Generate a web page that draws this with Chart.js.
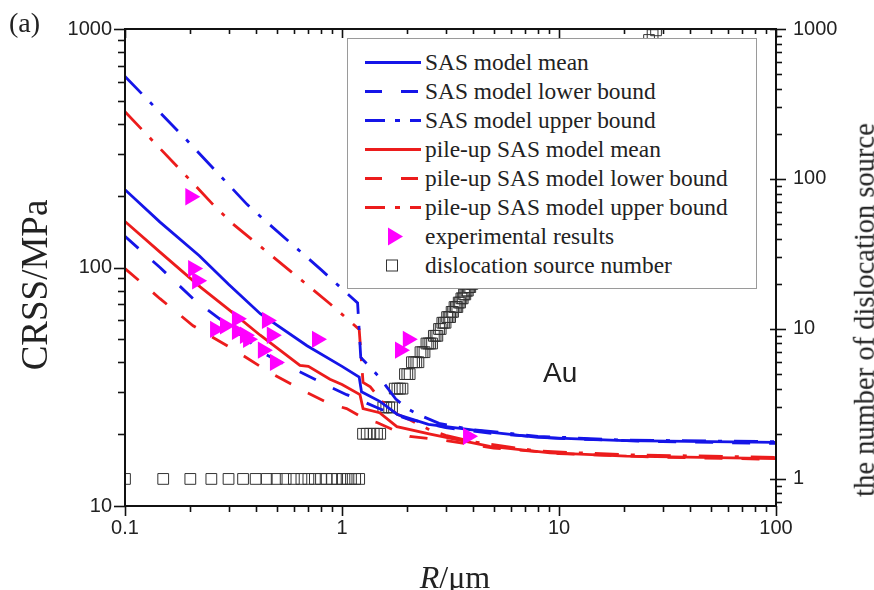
<!DOCTYPE html>
<html>
<head>
<meta charset="utf-8">
<script src="https://cdn.jsdelivr.net/npm/chart.js@4.4.0/dist/chart.umd.min.js"></script>
<style>
  body { margin: 0; background: #fff; }
  #wrap { position: relative; width: 874px; height: 590px; overflow: hidden; }
  #stat-chart { position: absolute; left: 0; top: 0; }
  .txt { position: absolute; color: #222; white-space: nowrap; line-height: 1; }
  .serif { font-family: "Liberation Serif", "Times New Roman", serif; }
  .rot { transform: translate(-50%, -50%) rotate(-90deg); }
  #legend { position: absolute; left: 347px; top: 38px; width: 410px; height: 251px; background: #fff;
            border: 1px solid #9a9a9a; box-sizing: border-box; }
  .row { position: absolute; left: 0; height: 29px; display: flex; align-items: center;
         font-family: "Liberation Serif", "Times New Roman", serif; font-size: 23.4px; color: #222; white-space: nowrap; }
  .row svg { margin-left: 17px; margin-right: 4px; }
</style>
</head>
<body>
<div id="wrap">
  <canvas id="stat-chart" width="874" height="590"></canvas>
  <div id="legend"></div>
  <div class="txt serif" style="left:9px;top:9px;font-size:28px">(a)</div>
  <div class="txt" style="left:543px;top:359px;font-size:28px;font-family:'Liberation Sans',Arial,sans-serif">Au</div>
  <div class="txt serif rot" style="left:34px;top:285px;font-size:37px">CRSS/MPa</div>
  <div class="txt serif rot" style="left:865px;top:310px;font-size:28.5px">the number of dislocation source</div>
  <div class="txt serif" style="left:455px;top:577px;font-size:32px;transform:translate(-50%,-50%)"><i>R</i>/μm</div>
</div>
<script>
// SAS model (blue)
const sasMeanR = [0.1, 0.145, 0.22, 0.3, 0.42, 0.69, 1.0, 1.2, 1.23, 1.5, 1.8, 2.5, 4.8, 8, 20, 50, 100]
const sasMeanY = [212, 155, 112, 85, 64, 47, 38.5, 34.7, 30.1, 27.4, 24.2, 22.0, 20.4, 19.4, 18.8, 18.6, 18.5]
const sasLowR = [0.1, 0.145, 0.206, 0.3, 0.45, 0.62, 0.88, 1.05, 1.2, 1.3, 1.5, 2.0, 3, 5, 10, 30, 100]
const sasLowY = [135, 100, 74, 57, 43, 37, 31.6, 29.3, 28.0, 27.0, 25.5, 23.2, 21.3, 20.1, 19.2, 18.6, 18.3]
const sasUpR = [0.1, 0.2, 0.365, 0.45, 0.8, 1.18, 1.22, 1.49, 1.77, 2.0, 2.24, 2.8, 4, 8, 20, 100]
const sasUpY = [633, 330, 184, 155, 98, 71, 42, 34.6, 28.1, 25.6, 24.2, 22.2, 20.9, 19.6, 18.9, 18.6]

// pile-up SAS model (red)
const pileMeanR = [0.1, 0.145, 0.222, 0.3, 0.42, 0.64, 0.7, 0.88, 1.0, 1.21, 1.25, 1.49, 1.79, 2.55, 4.8, 9.1, 20.5, 100]
const pileMeanY = [156, 116, 83, 66.8, 52, 38.9, 38.5, 34, 32.3, 29.3, 25.6, 24.6, 21.5, 20.0, 17.8, 16.7, 16.2, 15.8]
const pileLowR = [0.1, 0.145, 0.206, 0.32, 0.46, 0.67, 0.88, 1.05, 1.3, 1.45, 1.8, 2.05, 3, 5, 10, 30, 100]
const pileLowY = [99, 74, 57, 45, 36.5, 30.3, 26.8, 25.6, 23.0, 22.4, 20.5, 19.6, 18.8, 17.5, 16.6, 16.0, 15.7]
const pileUpR = [0.1, 0.2, 0.254, 0.315, 0.6, 0.88, 1.2, 1.25, 1.35, 1.53, 1.79, 2.05, 2.5, 3, 4, 8, 20, 100]
const pileUpY = [450, 232, 184, 152, 94, 70.5, 55, 33, 31.6, 27.4, 24.3, 23.0, 21.0, 19.8, 18.6, 17.0, 16.4, 16.0]

// experimental results
const expR = [0.2, 0.206, 0.215, 0.26, 0.289, 0.328, 0.328, 0.357, 0.369, 0.451, 0.475, 0.432, 0.491, 0.767, 1.85, 2.01, 3.81]
const expY = [198, 99, 88, 55, 57, 61, 54, 52, 50, 60, 52, 45, 40, 50, 45, 50, 19.6]

// dislocation source number (right axis)
const dislocR = [
  0.1, 0.15, 0.2, 0.25, 0.3, 0.35, 0.4, 0.45, 0.5, 0.55, 0.6, 0.65, 0.7, 0.75, 0.8, 0.85, 0.9, 0.95, 1.0, 1.05, 1.1, 1.15, 1.2,
  1.25, 1.3, 1.35, 1.4, 1.45, 1.5,
  1.55, 1.6, 1.65, 1.7,
  1.75, 1.8, 1.85, 1.9,
  1.95, 2.0, 2.05,
  2.1, 2.15, 2.2, 2.25,
  2.3, 2.35, 2.4,
  2.45, 2.5, 2.55, 2.6,
  2.65, 2.7, 2.75,
  2.8, 2.85,
  2.9, 2.95, 3.0,
  3.05, 3.1, 3.15,
  3.2, 3.25,
  3.3, 3.35, 3.4,
  3.45, 3.5,
  3.55, 3.6,
  3.65, 3.7,
  3.75, 3.8,
  3.85, 3.9,
  3.95, 4.0,
  5, 6, 8, 10, 12, 15, 18, 20, 22, 24, 25, 26, 27, 28]
const dislocN = [
  1, 1, 1, 1, 1, 1, 1, 1, 1, 1, 1, 1, 1, 1, 1, 1, 1, 1, 1, 1, 1, 1, 1,
  2, 2, 2, 2, 2, 2,
  3, 3, 3, 3,
  4, 4, 4, 4,
  5, 5, 5,
  6, 6, 6, 6,
  7, 7, 7,
  8, 8, 8, 8,
  9, 9, 9,
  10, 10,
  11, 11, 11,
  12, 12, 12,
  13, 13,
  14, 14, 14,
  15, 15,
  16, 16,
  17, 17,
  18, 18,
  19, 19,
  20, 20,
  31, 45, 80, 125, 180, 281, 405, 500, 605, 720, 781, 845, 911, 980]

// axes
const xMajor = [0.1, 1, 10, 100]
const yMajor = [10, 100, 1000]
const y2Major = [1, 10, 100, 1000]

const blue = '#1515e8'
const red = '#ec1c1c'
const dashed = [18, 19]
const dashDot = [24, 12, 4, 12]

function logTicks(min, max) {
    let out = []
    for (let e = Math.floor(Math.log10(min)); e <= Math.ceil(Math.log10(max)); e++) {
        for (let k = 1; k < 10; k++) {
            let v = +(k * Math.pow(10, e)).toPrecision(3)
            if (v >= min * 0.999 && v <= max * 1.001) out.push(v)
        }
    }
    return out
}
const xTicks = logTicks(0.1, 100)
const yTicks = logTicks(10, 1000)
const y2Ticks = logTicks(0.66, 1000)

const pts = (xs, ys) => xs.map((x, i) => ({x: x, y: ys[i]}))

const curve = (label, xs, ys, color, dash) => ({
    label: label,
    data: pts(xs, ys),
    showLine: true,
    borderColor: color,
    backgroundColor: color,
    borderWidth: 2.8,
    borderDash: dash,
    pointRadius: 0,
    yAxisID: 'y',
    legendDash: dash
})

const datasets = [
    {
        label: 'experimental results',
        data: pts(expR, expY),
        pointStyle: 'triangle',
        rotation: 90,
        pointRadius: 10,
        backgroundColor: '#ff00ff',
        borderColor: '#ff00ff',
        borderWidth: 0,
        yAxisID: 'y',
        marker: 'tri'
    },
    curve('SAS model mean', sasMeanR, sasMeanY, blue, []),
    curve('SAS model lower bound', sasLowR, sasLowY, blue, dashed),
    curve('SAS model upper bound', sasUpR, sasUpY, blue, dashDot),
    curve('pile-up SAS model mean', pileMeanR, pileMeanY, red, []),
    curve('pile-up SAS model lower bound', pileLowR, pileLowY, red, dashed),
    curve('pile-up SAS model upper bound', pileUpR, pileUpY, red, dashDot),
    {
        label: 'dislocation source number',
        data: pts(dislocR, dislocN),
        pointStyle: 'rect',
        pointRadius: 7.6,
        backgroundColor: 'rgba(0,0,0,0)',
        borderColor: '#333',
        borderWidth: 1,
        yAxisID: 'y2',
        marker: 'sq'
    }
]

const tickFont = {family: "'Liberation Sans', Arial, sans-serif", size: 20}

const labelOnly = majors => v => majors.includes(+(+v).toPrecision(3)) ? String(v) : ''

const frame = {
    id: 'frame',
    afterDraw(chart) {
        const {ctx, chartArea: a, scales} = chart
        ctx.save()
        ctx.strokeStyle = '#111'
        ctx.lineWidth = 2
        ctx.strokeRect(a.left, a.top, a.right - a.left, a.bottom - a.top)
        ctx.lineWidth = 1.6
        const line = (x1, y1, x2, y2) => {
            ctx.beginPath(); ctx.moveTo(x1, y1); ctx.lineTo(x2, y2); ctx.stroke()
        }
        for (let v of xTicks) {
            let px = Math.round(scales.x.getPixelForValue(v)) + 0.5
            let big = xMajor.includes(v)
            line(px, a.bottom, px, a.bottom + (big ? 10 : 6))
            line(px, a.top, px, a.top + (big ? 9 : 5))
        }
        for (let v of yTicks) {
            let py = Math.round(scales.y.getPixelForValue(v)) + 0.5
            let big = yMajor.includes(v)
            line(a.left - (big ? 11 : 7), py, a.left, py)
        }
        for (let v of y2Ticks) {
            let py = Math.round(scales.y2.getPixelForValue(v)) + 0.5
            let big = y2Major.includes(v)
            line(a.right - (big ? 6 : 0), py, a.right + (big ? 10 : 6), py)
        }
        ctx.restore()
    }
}

const noGrid = {display: false, drawTicks: false}
const ctx = document.getElementById('stat-chart').getContext('2d')

const myChart = new Chart(ctx, {
    type: 'scatter',
    data: {datasets: datasets},
    options: {
        responsive: false,
        animation: false,
        events: [],
        layout: {padding: {top: 22, left: 0, right: 0, bottom: 0}},
        plugins: {legend: {display: false}, tooltip: {enabled: false}},
        scales: {
            x: {
                type: 'logarithmic', position: 'bottom', min: 0.1, max: 100,
                grid: noGrid, border: {display: false},
                afterBuildTicks: s => { s.ticks = xTicks.map(v => ({value: v})) },
                afterFit: s => { s.height = 84 },
                ticks: {font: tickFont, color: '#222', padding: 10, autoSkip: false, maxRotation: 0,
                        callback: labelOnly(xMajor)}
            },
            y: {
                type: 'logarithmic', position: 'left', min: 10, max: 1000,
                grid: noGrid, border: {display: false},
                afterBuildTicks: s => { s.ticks = yTicks.map(v => ({value: v})) },
                afterFit: s => { s.width = 125 },
                ticks: {font: tickFont, color: '#222', padding: 13, autoSkip: false,
                        callback: labelOnly(yMajor)}
            },
            y2: {
                type: 'logarithmic', position: 'right', min: 0.66, max: 1000,
                grid: noGrid, border: {display: false},
                afterBuildTicks: s => { s.ticks = y2Ticks.map(v => ({value: v})) },
                afterFit: s => { s.width = 98 },
                ticks: {font: tickFont, color: '#222', padding: 17, autoSkip: false,
                        callback: labelOnly(y2Major)}
            }
        }
    },
    plugins: [frame]
})

// legend inside the plot, drawn over the canvas like the original
const legendOrder = [1, 2, 3, 4, 5, 6, 0, 7]
const legend = document.getElementById('legend')
legendOrder.forEach((idx, i) => {
    const d = datasets[idx]
    let sample
    if (d.marker === 'tri') {
        sample = `<polygon points="23,5.5 23,23.5 38,14.5" fill="#ff00ff"/>`
    } else if (d.marker === 'sq') {
        sample = `<rect x="21.5" y="9" width="11" height="11" fill="none" stroke="#333" stroke-width="1"/>`
    } else {
        let da = d.legendDash.length === 2 ? '17,19' : d.legendDash.length ? '20,10,5,10' : 'none'
        sample = `<line x1="0" y1="14.5" x2="56" y2="14.5" stroke="${d.borderColor}" stroke-width="3" stroke-dasharray="${da}"/>`
    }
    const row = document.createElement('div')
    row.className = 'row'
    row.style.top = (9 + 29 * i) + 'px'
    row.innerHTML = `<svg width="56" height="29">${sample}</svg><span>${d.label}</span>`
    legend.appendChild(row)
})
</script>
</body>
</html>
